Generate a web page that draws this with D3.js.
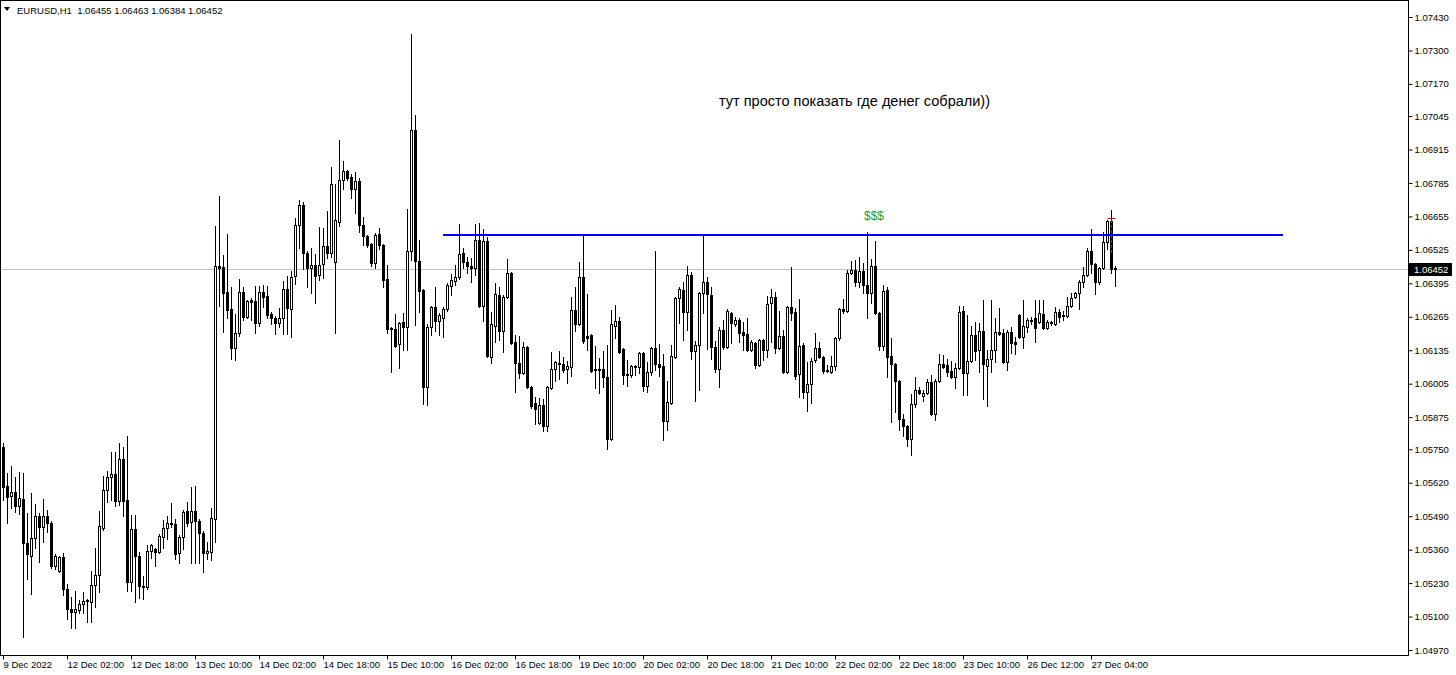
<!DOCTYPE html>
<html><head><meta charset="utf-8">
<script src="https://cdn.jsdelivr.net/npm/d3@7"></script>
<style>html,body{margin:0;padding:0;background:#fff;} svg{display:block;font-family:"Liberation Sans",Arial,sans-serif;}</style>
</head><body><svg id="c" width="1456" height="675"></svg>
<script>
// EURUSD H1, 9 Dec 2022 10:00 onward (one entry per hourly bar)
const opens=[1.05759,1.05607,1.05569,1.05584,1.05530,1.05557,1.05386,1.05335,1.05405,1.05491,1.05448,1.05491,1.05464,1.05297,1.05277,1.05332,1.05207,1.05129,1.05118,1.05126,1.05149,1.05161,1.05157,1.05223,1.05262,1.05444,1.05592,1.05642,1.05654,1.05549,1.05712,1.05553,1.05234,1.05440,1.05335,1.05215,1.05215,1.05355,1.05363,1.05351,1.05409,1.05444,1.05460,1.05460,1.05347,1.05409,1.05510,1.05468,1.05510,1.05471,1.05425,1.05347,1.05351,1.05479,1.06462,1.06458,1.06361,1.06295,1.06144,1.06202,1.06361,1.06264,1.06330,1.06326,1.06241,1.06361,1.06346,1.06276,1.06260,1.06241,1.06260,1.06373,1.06295,1.06424,1.06622,1.06699,1.06513,1.06455,1.06466,1.06427,1.06470,1.06540,1.06513,1.06478,1.06633,1.06797,1.06832,1.06808,1.06762,1.06793,1.06622,1.06579,1.06548,1.06474,1.06587,1.06544,1.06412,1.06221,1.06218,1.06159,1.06245,1.06225,1.06521,1.06991,1.06482,1.06369,1.05992,1.06225,1.06303,1.06249,1.06260,1.06295,1.06385,1.06404,1.06420,1.06513,1.06478,1.06462,1.06455,1.06563,1.06307,1.06560,1.06109,1.06229,1.06350,1.06210,1.06342,1.06435,1.06167,1.06085,1.06047,1.06148,1.05992,1.05930,1.05852,1.05922,1.05841,1.05988,1.06062,1.06082,1.06082,1.06062,1.06070,1.06291,1.06237,1.06420,1.06190,1.06194,1.06062,1.06058,1.06062,1.06031,1.05790,1.06229,1.06249,1.06140,1.06039,1.06039,1.06074,1.06070,1.06124,1.05996,1.06050,1.06144,1.06082,1.06074,1.05860,1.05930,1.06109,1.06338,1.06369,1.06284,1.06427,1.06132,1.06155,1.06357,1.06400,1.06350,1.06148,1.06062,1.06214,1.06148,1.06280,1.06237,1.06253,1.06206,1.06198,1.06136,1.06163,1.06078,1.06175,1.06136,1.06319,1.06342,1.06144,1.06190,1.06050,1.06303,1.06284,1.06043,1.06155,1.05973,1.06004,1.06097,1.06144,1.06109,1.06054,1.06050,1.06074,1.06183,1.06295,1.06287,1.06435,1.06447,1.06400,1.06443,1.06389,1.06357,1.06462,1.06280,1.06152,1.06369,1.06113,1.06082,1.06015,1.05868,1.05841,1.05790,1.05926,1.05981,1.05957,1.05969,1.06012,1.05887,1.06015,1.06082,1.06078,1.06054,1.06031,1.06066,1.06287,1.06047,1.06093,1.06194,1.06136,1.06210,1.06074,1.06101,1.06136,1.06206,1.06202,1.06089,1.06206,1.06167,1.06272,1.06186,1.06225,1.06253,1.06260,1.06245,1.06276,1.06221,1.06241,1.06237,1.06284,1.06268,1.06268,1.06307,1.06342,1.06357,1.06400,1.06427,1.06521,1.06470,1.06400,1.06455,1.06556,1.06637,1.06455];
const highs=[1.05775,1.05658,1.05685,1.05642,1.05662,1.05658,1.05502,1.05580,1.05538,1.05502,1.05557,1.05514,1.05471,1.05343,1.05335,1.05347,1.05227,1.05176,1.05199,1.05164,1.05196,1.05168,1.05277,1.05367,1.05510,1.05646,1.05666,1.05740,1.05740,1.05775,1.05759,1.05802,1.05495,1.05495,1.05351,1.05258,1.05378,1.05382,1.05367,1.05421,1.05475,1.05491,1.05541,1.05479,1.05417,1.05514,1.05545,1.05604,1.05607,1.05479,1.05433,1.05390,1.05522,1.06618,1.06734,1.06505,1.06587,1.06381,1.06276,1.06412,1.06381,1.06330,1.06338,1.06385,1.06385,1.06389,1.06385,1.06284,1.06268,1.06299,1.06404,1.06424,1.06443,1.06649,1.06719,1.06711,1.06521,1.06532,1.06509,1.06614,1.06610,1.06676,1.06847,1.06781,1.06952,1.06870,1.06835,1.06820,1.06828,1.06804,1.06653,1.06583,1.06552,1.06591,1.06610,1.06548,1.06466,1.06225,1.06276,1.06245,1.06280,1.06684,1.07364,1.07049,1.06563,1.06373,1.06237,1.06307,1.06381,1.06280,1.06303,1.06396,1.06431,1.06466,1.06626,1.06532,1.06497,1.06493,1.06626,1.06629,1.06606,1.06575,1.06284,1.06396,1.06381,1.06350,1.06490,1.06439,1.06194,1.06190,1.06167,1.06152,1.05996,1.05953,1.05949,1.05946,1.05996,1.06128,1.06093,1.06132,1.06109,1.06093,1.06342,1.06381,1.06478,1.06579,1.06354,1.06198,1.06152,1.06105,1.06132,1.06155,1.06291,1.06311,1.06264,1.06144,1.06097,1.06078,1.06078,1.06128,1.06128,1.06089,1.06148,1.06521,1.06159,1.06120,1.06015,1.06155,1.06342,1.06381,1.06400,1.06462,1.06439,1.06171,1.06361,1.06583,1.06420,1.06381,1.06171,1.06225,1.06253,1.06295,1.06284,1.06264,1.06260,1.06245,1.06260,1.06175,1.06167,1.06179,1.06179,1.06346,1.06373,1.06361,1.06287,1.06214,1.06307,1.06458,1.06299,1.06334,1.06163,1.06089,1.06105,1.06202,1.06167,1.06113,1.06078,1.06113,1.06186,1.06299,1.06334,1.06447,1.06482,1.06486,1.06497,1.06474,1.06594,1.06490,1.06560,1.06284,1.06389,1.06381,1.06183,1.06085,1.06019,1.05887,1.05845,1.05965,1.06031,1.05992,1.05981,1.06023,1.06039,1.06023,1.06120,1.06117,1.06101,1.06093,1.06085,1.06307,1.06307,1.06272,1.06229,1.06245,1.06241,1.06330,1.06136,1.06330,1.06260,1.06299,1.06218,1.06214,1.06225,1.06186,1.06276,1.06330,1.06260,1.06264,1.06330,1.06330,1.06330,1.06253,1.06249,1.06303,1.06295,1.06287,1.06342,1.06357,1.06361,1.06408,1.06458,1.06532,1.06606,1.06474,1.06458,1.06594,1.06641,1.06680,1.06463];
const lows=[1.05553,1.05464,1.05522,1.05506,1.05499,1.05021,1.05246,1.05188,1.05367,1.05312,1.05390,1.05429,1.05289,1.05285,1.05273,1.05184,1.05091,1.05056,1.05056,1.05114,1.05114,1.05079,1.05079,1.05137,1.05196,1.05436,1.05545,1.05553,1.05530,1.05534,1.05491,1.05199,1.05199,1.05157,1.05172,1.05168,1.05207,1.05328,1.05297,1.05347,1.05367,1.05401,1.05448,1.05324,1.05308,1.05363,1.05452,1.05308,1.05308,1.05308,1.05273,1.05324,1.05320,1.05390,1.06307,1.06206,1.06260,1.06101,1.06097,1.06190,1.06253,1.06260,1.06253,1.06202,1.06229,1.06303,1.06260,1.06237,1.06198,1.06225,1.06198,1.06198,1.06186,1.06392,1.06532,1.06451,1.06381,1.06357,1.06319,1.06408,1.06416,1.06493,1.06497,1.06202,1.06618,1.06762,1.06797,1.06727,1.06668,1.06594,1.06544,1.06536,1.06462,1.06455,1.06528,1.06381,1.06202,1.06050,1.06148,1.06066,1.06136,1.06136,1.06486,1.06233,1.06284,1.05926,1.05922,1.06194,1.06210,1.06194,1.06186,1.06287,1.06350,1.06389,1.06412,1.06455,1.06435,1.06400,1.06427,1.06303,1.06249,1.06109,1.06085,1.06167,1.06175,1.06128,1.06338,1.06159,1.05973,1.06027,1.06043,1.05988,1.05911,1.05848,1.05848,1.05821,1.05821,1.05984,1.06015,1.06023,1.06050,1.06008,1.06035,1.06210,1.06233,1.06163,1.06136,1.06050,1.05988,1.05969,1.05992,1.05751,1.05786,1.06183,1.06124,1.06004,1.05996,1.06031,1.06039,1.06047,1.05977,1.05973,1.06039,1.06058,1.06035,1.05786,1.05825,1.05926,1.06105,1.06241,1.06175,1.06214,1.06101,1.05938,1.05981,1.06280,1.06140,1.06101,1.06050,1.05992,1.06140,1.06144,1.06163,1.06229,1.06167,1.06136,1.06132,1.06132,1.06066,1.06074,1.06097,1.06109,1.06167,1.06124,1.06140,1.06047,1.06047,1.06253,1.06023,1.05953,1.05949,1.05899,1.05930,1.06089,1.06105,1.06047,1.06050,1.06047,1.06058,1.06175,1.06280,1.06284,1.06431,1.06385,1.06381,1.06357,1.06260,1.06319,1.06276,1.06136,1.06136,1.06031,1.05856,1.05895,1.05825,1.05802,1.05763,1.05728,1.05914,1.05965,1.05938,1.05965,1.05883,1.05864,1.06012,1.06066,1.06035,1.06027,1.05988,1.06062,1.05961,1.05961,1.06089,1.06097,1.06050,1.05946,1.05918,1.06050,1.06089,1.06194,1.06085,1.06058,1.06124,1.06120,1.06183,1.06144,1.06206,1.06237,1.06167,1.06241,1.06218,1.06218,1.06233,1.06233,1.06245,1.06253,1.06264,1.06303,1.06338,1.06295,1.06381,1.06424,1.06435,1.06354,1.06392,1.06451,1.06528,1.06435,1.06384];
const closes=[1.05604,1.05565,1.05584,1.05530,1.05561,1.05386,1.05343,1.05405,1.05491,1.05448,1.05491,1.05464,1.05297,1.05335,1.05332,1.05207,1.05129,1.05118,1.05129,1.05149,1.05161,1.05164,1.05223,1.05262,1.05452,1.05592,1.05642,1.05654,1.05549,1.05712,1.05549,1.05234,1.05440,1.05335,1.05219,1.05219,1.05355,1.05378,1.05351,1.05413,1.05444,1.05464,1.05464,1.05343,1.05409,1.05506,1.05464,1.05510,1.05471,1.05425,1.05347,1.05355,1.05483,1.06462,1.06455,1.06357,1.06291,1.06144,1.06202,1.06361,1.06264,1.06326,1.06322,1.06241,1.06361,1.06342,1.06272,1.06260,1.06241,1.06260,1.06373,1.06299,1.06420,1.06622,1.06699,1.06513,1.06455,1.06466,1.06424,1.06466,1.06540,1.06513,1.06781,1.06641,1.06797,1.06832,1.06804,1.06762,1.06793,1.06622,1.06579,1.06544,1.06474,1.06583,1.06544,1.06408,1.06218,1.06218,1.06152,1.06241,1.06225,1.06521,1.06991,1.06482,1.06365,1.05992,1.06225,1.06303,1.06249,1.06272,1.06295,1.06389,1.06408,1.06420,1.06509,1.06478,1.06462,1.06455,1.06563,1.06307,1.06560,1.06113,1.06237,1.06354,1.06210,1.06342,1.06435,1.06163,1.06085,1.06047,1.06148,1.05992,1.05918,1.05907,1.05922,1.05841,1.05992,1.06062,1.06089,1.06085,1.06058,1.06074,1.06291,1.06237,1.06420,1.06171,1.06183,1.06054,1.06058,1.06062,1.06031,1.05790,1.06237,1.06249,1.06128,1.06039,1.06043,1.06074,1.06070,1.06124,1.05996,1.06050,1.06144,1.06082,1.06070,1.05860,1.05934,1.06113,1.06338,1.06373,1.06284,1.06427,1.06132,1.06155,1.06357,1.06400,1.06354,1.06148,1.06062,1.06214,1.06148,1.06287,1.06241,1.06253,1.06202,1.06194,1.06136,1.06167,1.06078,1.06175,1.06136,1.06315,1.06342,1.06144,1.06190,1.06050,1.06303,1.06280,1.06035,1.06152,1.05973,1.06004,1.06093,1.06144,1.06109,1.06054,1.06058,1.06074,1.06183,1.06295,1.06287,1.06435,1.06447,1.06400,1.06443,1.06389,1.06357,1.06462,1.06280,1.06152,1.06365,1.06109,1.06082,1.06015,1.05868,1.05841,1.05790,1.05926,1.05981,1.05969,1.05969,1.06012,1.05887,1.06015,1.06082,1.06070,1.06050,1.06031,1.06066,1.06284,1.06047,1.06093,1.06194,1.06132,1.06210,1.06082,1.06101,1.06136,1.06206,1.06198,1.06089,1.06206,1.06163,1.06159,1.06186,1.06229,1.06253,1.06249,1.06221,1.06280,1.06221,1.06245,1.06245,1.06284,1.06264,1.06272,1.06307,1.06338,1.06357,1.06400,1.06427,1.06521,1.06470,1.06400,1.06455,1.06556,1.06637,1.06451,1.06452];

const timeLabels=["9 Dec 2022","12 Dec 02:00","12 Dec 18:00","13 Dec 10:00","14 Dec 02:00","14 Dec 18:00","15 Dec 10:00","16 Dec 02:00","16 Dec 18:00","19 Dec 10:00","20 Dec 02:00","20 Dec 18:00","21 Dec 10:00","22 Dec 02:00","22 Dec 18:00","23 Dec 10:00","26 Dec 12:00","27 Dec 04:00"];
const barsPerTimeLabel=16;
const priceTicks=[1.07430,1.07300,1.07170,1.07045,1.06915,1.06785,1.06655,1.06525,1.06395,1.06265,1.06135,1.06005,1.05875,1.05750,1.05620,1.05490,1.05360,1.05230,1.05100,1.04970];
const priceRange=[1.04970,1.07430];
const barsVisible=[-0.75,351.25];

const levelPrice=1.06583, levelFromBar=110, levelToBar=320;       // blue horizontal line
const markerBar=277, markerTop=1.06641, markerBottom=1.06513;     // red dashed marker
const dollarsText="$$$", dollarsBar=217.75, dollarsPrice=1.06655;
const noteText="тут просто показать где денег собрали))", noteBar=179, notePrice=1.07102;
const titleText="EURUSD,H1  1.06455 1.06463 1.06384 1.06452";
const lastPrice=1.06452;

const W=1456, Hh=675, plotRight=1408, plotBottom=655;
const svg=d3.select("#c");
const x=d3.scaleLinear().domain(barsVisible).range([0,plotRight]);
const y=d3.scaleLinear().domain(priceRange).range([650,17]);

svg.append("rect").attr("width",W).attr("height",Hh).attr("fill","#fff");

// last-price grey line
svg.append("line").attr("x1",0).attr("x2",plotRight).attr("y1",Math.round(y(lastPrice))+0.5).attr("y2",Math.round(y(lastPrice))+0.5)
  .attr("stroke","#c0c0c0").attr("stroke-width",1);

// candles
const bars=d3.range(opens.length).map(i=>({i,o:opens[i],h:highs[i],l:lows[i],c:closes[i]}));
const g=svg.append("g");
bars.forEach(b=>{
  const cx=Math.round(x(b.i));
  const yh=Math.round(y(b.h)), yl=Math.round(y(b.l));
  g.append("rect").attr("x",cx).attr("y",yh).attr("width",1).attr("height",Math.max(1,yl-yh+1)).attr("fill","#000");
  const yt=Math.round(y(Math.max(b.o,b.c))), yb=Math.round(y(Math.min(b.o,b.c)));
  if(b.c<b.o){
    g.append("rect").attr("x",cx-1).attr("y",yt).attr("width",3).attr("height",Math.max(1,yb-yt+1)).attr("fill","#000");
  } else if(yb-yt<1){
    g.append("rect").attr("x",cx-1).attr("y",yt).attr("width",3).attr("height",1).attr("fill","#000");
  } else {
    g.append("rect").attr("x",cx-0.5).attr("y",yt+0.5).attr("width",2).attr("height",yb-yt)
      .attr("fill","#fff").attr("stroke","#000").attr("stroke-width",1);
  }
});

// blue level line
svg.append("line").attr("x1",x(levelFromBar)).attr("x2",x(levelToBar)).attr("y1",y(levelPrice)).attr("y2",y(levelPrice))
  .attr("stroke","#0000ff").attr("stroke-width",2);

// red marker
const mx=Math.round(x(markerBar))+0.5;
svg.append("line").attr("x1",mx).attr("x2",mx).attr("y1",y(markerTop)).attr("y2",y(markerBottom))
  .attr("stroke","#ff0000").attr("stroke-width",1).attr("stroke-dasharray","3,2");
svg.append("line").attr("x1",mx-4).attr("x2",mx+4).attr("y1",Math.round(y(markerTop))-1.5).attr("y2",Math.round(y(markerTop))-1.5)
  .attr("stroke","#ff0000").attr("stroke-width",1);

// texts
svg.append("text").attr("x",x(dollarsBar)).attr("y",y(dollarsPrice)).attr("text-anchor","middle").attr("dominant-baseline","central")
  .attr("font-size",12).attr("fill","#1f9a1f").text(dollarsText);
svg.append("text").attr("x",x(noteBar)).attr("y",y(notePrice)).attr("dominant-baseline","central")
  .attr("font-size",14).attr("fill","#000").attr("textLength",271).attr("lengthAdjust","spacingAndGlyphs").text(noteText);

// frame
svg.append("rect").attr("x",0.5).attr("y",0.5).attr("width",plotRight).attr("height",plotBottom)
  .attr("fill","none").attr("stroke","#000").attr("stroke-width",1);

// price axis
const ya=svg.append("g").attr("transform",`translate(${plotRight+0.5},0)`)
  .call(d3.axisRight(y).tickValues(priceTicks).tickFormat(d3.format(".5f")).tickSize(4).tickPadding(2));
ya.select(".domain").remove();
ya.selectAll("text").attr("font-size",9.5).attr("font-family","Liberation Sans, Arial, sans-serif").attr("fill","#000");
ya.selectAll("line").attr("stroke","#000");

// time axis
const tickBars=timeLabels.map((d,k)=>k*barsPerTimeLabel);
const xa=svg.append("g").attr("transform",`translate(0,${plotBottom+0.5})`)
  .call(d3.axisBottom(x).tickValues(tickBars).tickFormat((d,k)=>timeLabels[k]).tickSize(4).tickPadding(2));
xa.select(".domain").remove();
xa.selectAll("text").attr("text-anchor","start").attr("x",0).attr("font-size",9.5).attr("font-family","Liberation Sans, Arial, sans-serif").attr("fill","#000");
xa.selectAll("line").attr("stroke","#000");

// last price box
const ly=y(lastPrice);
svg.append("rect").attr("x",plotRight+1).attr("y",Math.round(ly)-6).attr("width",43).attr("height",13).attr("fill","#000");
svg.append("text").attr("x",plotRight+6).attr("y",ly+0.5).attr("dominant-baseline","central").attr("font-size",9.5).attr("fill","#fff").text(d3.format(".5f")(lastPrice));

// title
svg.append("path").attr("d","M4,7 L10,7 L7,11 Z").attr("fill","#000");
svg.append("text").attr("x",17).attr("y",10).attr("dominant-baseline","central").attr("font-size",9.5).attr("fill","#000")
  .attr("xml:space","preserve").style("white-space","pre").text(titleText);
</script></body></html>
